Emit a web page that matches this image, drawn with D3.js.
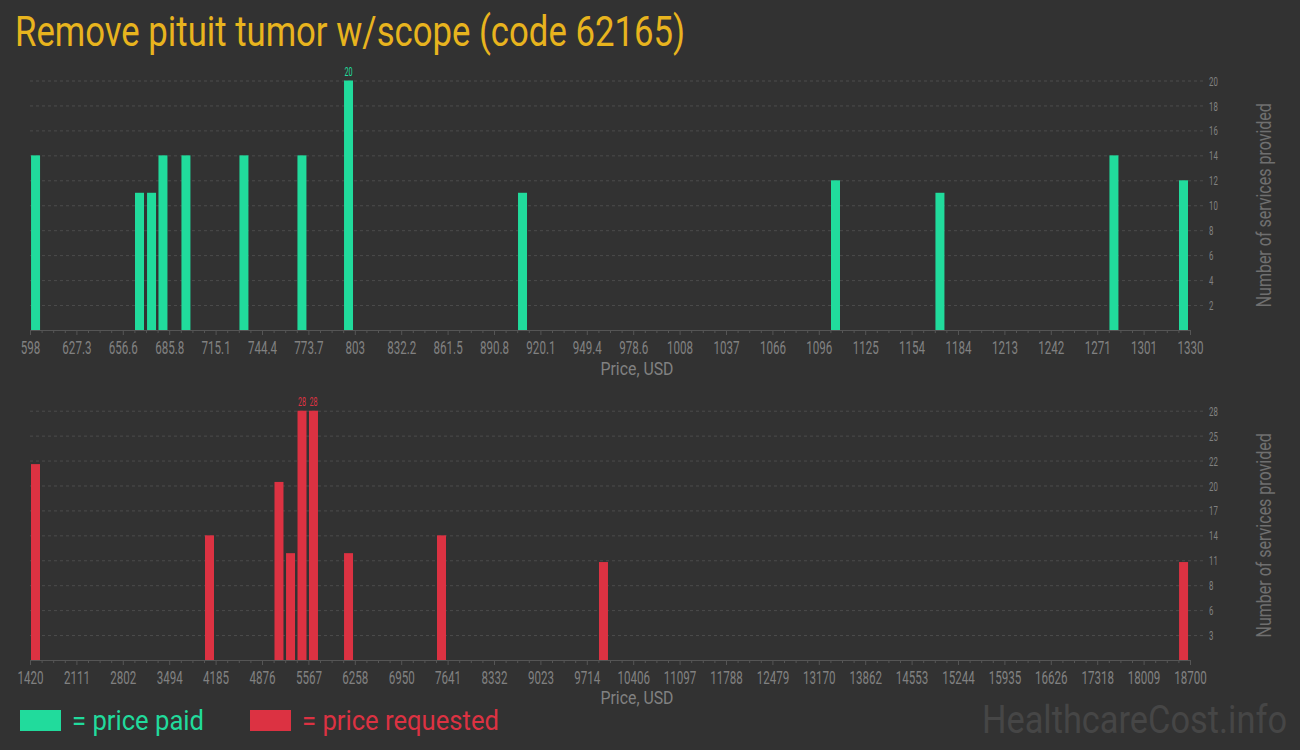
<!DOCTYPE html>
<html><head><meta charset="utf-8">
<script src="https://cdn.jsdelivr.net/npm/d3@7"></script>
<style>
body{margin:0;background:#323232;}
svg text{font-family:Roboto,"Liberation Sans Narrow","DejaVu Sans Condensed",sans-serif;}
</style>
</head><body>
<svg id="chart" width="1300" height="750"></svg>
<script>
// ---- data ----
const paidPrices = [601.5, 667.1, 674.7, 681.9, 696.4, 733.0, 769.6, 799.0, 908.8, 1106.3, 1172.2, 1282.0, 1325.9];
const paidCounts = [14, 11, 11, 14, 14, 14, 14, 20, 11, 12, 11, 14, 12];
const requestedPrices = [1502, 4094, 5129, 5301, 5472, 5643, 6165, 7550, 9963, 18604];
const requestedCounts = [22, 14, 20, 12, 28, 28, 12, 14, 11, 11];

const paidDomain = [598, 1330];
const requestedDomain = [1420, 18700];
const paidTickLabels = ["598","627.3","656.6","685.8","715.1","744.4","773.7","803","832.2","861.5","890.8","920.1","949.4","978.6","1008","1037","1066","1096","1125","1154","1184","1213","1242","1271","1301","1330"];
const requestedTickLabels = ["1420","2111","2802","3494","4185","4876","5567","6258","6950","7641","8332","9023","9714","10406","11097","11788","12479","13170","13862","14553","15244","15935","16626","17318","18009","18700"];
const paidYTicks = [2,4,6,8,10,12,14,16,18,20];
const paidYLabels = ["2","4","6","8","10","12","14","16","18","20"];
const requestedYTicks = [2.8,5.6,8.4,11.2,14,16.8,19.6,22.4,25.2,28];
const requestedYLabels = ["3","6","8","11","14","17","20","22","25","28"];

const title = "Remove pituit tumor w/scope (code 62165)";
const xTitle = "Price, USD";
const yTitle = "Number of services provided";
const legendLabels = ["= price paid", "= price requested"];
const colors = {paid:"#21db9c", requested:"#dc3242", title:"#e8b41e", text:"#818181", axis:"#555555", grid:"#4c4c4c", mark:"#464646"};

// ---- drawing ----
const svg = d3.select("#chart");
svg.append("rect").attr("width",1300).attr("height",750).attr("fill","#323232");

svg.append("text").attr("x",15).attr("y",46).attr("font-size",42)
  .attr("fill",colors.title).attr("textLength",670).attr("lengthAdjust","spacingAndGlyphs")
  .text(title);

function panel(prices, counts, domain, tickLabels, yTicks, yLabels, yMax, y0, yTop, color, xTitleY){
  const x = d3.scaleLinear().domain(domain).range([30,1190]);
  const y = d3.scaleLinear().domain([0,yMax]).range([y0,yTop]);
  const n = tickLabels.length - 1;
  const step = (domain[1]-domain[0])/n;
  const majors = d3.range(n+1).map(i => domain[0] + i*step);
  const minors = d3.range(n*4+1).map(i => domain[0] + i*step/4).filter((d,i)=> i%4!==0);

  const g = svg.append("g");
  // grid
  g.selectAll("line.grid").data(yTicks).enter().append("line")
    .attr("x1",30).attr("x2",1205)
    .attr("y1",d=>y(d)+0.5).attr("y2",d=>y(d)+0.5)
    .attr("stroke",colors.grid).attr("stroke-dasharray","3,3");

  // y labels (right)
  const ya = g.append("g").attr("transform","translate(1209,0)")
    .call(d3.axisRight(y).tickValues(yTicks).tickSize(0).tickPadding(0).tickFormat((d,i)=>yLabels[i]));
  ya.select(".domain").remove();
  ya.selectAll("text").attr("fill",colors.text).attr("font-size",13)
    .attr("transform","scale(0.6,1)").attr("dy","0.35em");

  // minor ticks
  const mi = g.append("g").attr("transform",`translate(0,${y0})`)
    .call(d3.axisBottom(x).tickValues(minors).tickSize(3).tickFormat(""));
  mi.select(".domain").remove();
  mi.selectAll("line").attr("stroke",colors.axis);

  // major axis
  const xa = g.append("g").attr("transform",`translate(0,${y0})`)
    .call(d3.axisBottom(x).tickValues(majors).tickSize(5).tickPadding(6).tickFormat((d,i)=>tickLabels[i]));
  xa.select(".domain").attr("stroke",colors.axis).attr("d",`M30,0.5H1190`);
  xa.selectAll("line").attr("stroke",colors.axis);
  xa.selectAll("text").attr("fill",colors.text).attr("font-size",19)
    .attr("transform","scale(0.61,1)");

  // bars
  g.selectAll("rect.bar").data(prices).enter().append("rect")
    .attr("x",(d)=>x(d)-4.5).attr("width",9)
    .attr("y",(d,i)=>y(counts[i])).attr("height",(d,i)=>y0-y(counts[i]))
    .attr("fill",color);

  // max labels
  const maxV = d3.max(counts);
  prices.forEach((p,i)=>{
    if(counts[i]===maxV){
      g.append("text").attr("transform",`translate(${x(p)},${y(counts[i])-5}) scale(0.6,1)`)
        .attr("text-anchor","middle").attr("font-size",12).attr("fill",color).text(counts[i]);
    }
  });

  // axis titles
  g.append("text").attr("transform",`translate(637,${xTitleY}) scale(0.88,1)`).attr("text-anchor","middle")
    .attr("font-size",18).attr("fill",colors.text).text(xTitle);
  g.append("text").attr("transform",`translate(1271,${(y0+yTop)/2}) rotate(-90) scale(0.8,1)`)
    .attr("text-anchor","middle").attr("font-size",20).attr("fill","#6f6f6f").text(yTitle);
}

panel(paidPrices, paidCounts, paidDomain, paidTickLabels, paidYTicks, paidYLabels, 20, 330, 80.5, colors.paid, 375);
panel(requestedPrices, requestedCounts, requestedDomain, requestedTickLabels, requestedYTicks, requestedYLabels, 28, 660, 410.7, colors.requested, 704);

// legend
svg.append("rect").attr("x",20).attr("y",710).attr("width",41).attr("height",21).attr("fill",colors.paid);
svg.append("text").attr("transform","translate(72,730) scale(0.915,1)").attr("font-size",28).attr("fill",colors.paid)
  .text(legendLabels[0]);
svg.append("rect").attr("x",250).attr("y",710).attr("width",41).attr("height",21).attr("fill",colors.requested);
svg.append("text").attr("transform","translate(302,730) scale(0.915,1)").attr("font-size",28).attr("fill",colors.requested)
  .text(legendLabels[1]);

// watermark
svg.append("text").attr("transform","translate(1287,733) scale(0.905,1)").attr("text-anchor","end")
  .attr("font-size",38).attr("fill",colors.mark).text("HealthcareCost.info");
</script>
</body></html>
